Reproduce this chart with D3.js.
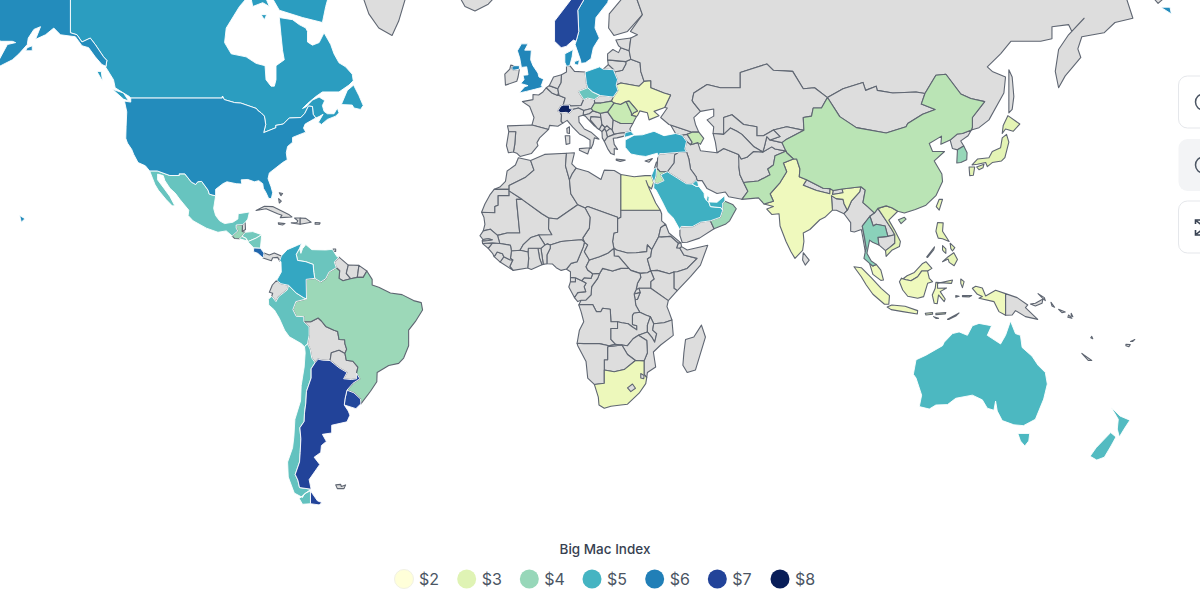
<!DOCTYPE html>
<html>
<head>
<meta charset="utf-8">
<script src="https://cdn.jsdelivr.net/npm/d3@7"></script>
<style>
  html, body { margin: 0; background: #fff; overflow: hidden; }
  svg { display: block; font-family: Inter, sans-serif; }
</style>
</head>
<body>
<svg id="chart" width="1200" height="594"></svg>
<script>
var countries = ["Switzerland","Norway","Argentina","Uruguay","Costa Rica","Sweden","USA","UK","Denmark","Canada","Poland","Colombia","Israel","Turkey","Saudi Arabia","Kuwait","UAE","Qatar","Australia","New Zealand","Chile","Czechia","Peru","Venezuela","Mexico","Nicaragua","Honduras","El Salvador","Thailand","Guatemala","South Korea","Brazil","Oman","Pakistan","China","Jordan","Azerbaijan","Hungary","Romania","Moldova","Vietnam","Japan","Philippines","Taiwan","Ukraine","Egypt","South Africa","India","Indonesia","Malaysia"];
var prices = [7.9,6.9,7.0,6.9,6.4,5.9,5.8,5.9,5.7,5.5,5.4,5.3,5.2,5.3,5.1,5.1,5.1,5.1,4.9,4.8,4.6,4.5,4.6,4.5,4.55,4.4,4.4,4.4,4.15,4.0,4.0,3.95,3.9,3.6,3.6,3.5,3.4,3.45,3.4,3.4,2.9,2.9,2.8,2.8,2.6,2.65,2.65,2.6,2.6,2.6];

var legendTitle = "Big Mac Index";
var legendSteps = [2,3,4,5,6,7,8];

// Simplified borders, lon,lat pairs, rings split by |
var outlines = {
  "Canada": "-141,72 -141,60.3 -139,60 -137.5,58.9 -135,59.5 -133.5,58.5 -131,56.5 -130,55.9 -130.3,54.7 -128,52.5 -127.5,51 -125,50 -123.2,49.3 -122.8,49 -95.2,49 -95.15,49.4 -94.6,48.7 -91.5,48.1 -89.6,48 -84.9,46.9 -84.5,46.5 -83.5,46 -82.5,45.3 -82.1,43.5 -82.7,41.7 -79,42.8 -79.1,43.3 -76.8,43.6 -75,44.9 -71.5,45 -70.3,45.9 -69.2,47.4 -68,47.3 -67.8,45.7 -67,44.9 -66,45.2 -64.8,45.7 -66.2,44 -65.3,43.5 -63.5,44.6 -61,45.3 -60,46 -60.5,47 -61.5,45.8 -63.5,45.8 -64.5,46.3 -65,47.5 -64.3,48.5 -66,49.2 -68,48.6 -70,47.2 -71,46.9 -69.5,47.9 -67,49.3 -65,50.2 -60,50.2 -57,51.5 -55.7,52.3 -56,53.5 -58,54.8 -60,55.5 -61.5,57 -62.5,58.5 -64.5,60.3 -66,58.8 -68,58.4 -69.5,58.9 -69.5,60.5 -70,61 -72,61.5 -74,62.2 -78,62.5 -77.5,60 -77,57.5 -76.5,56 -79,55 -79,52.5 -79.5,51.3 -80.5,51.3 -82,52.5 -82.3,55 -85,55.4 -88,56.5 -92.5,57 -94.5,58.8 -94,61 -90,64 -88,65 -85,66 -85,72 | -80,72 -80,65 -78,63.5 -71,62.5 -65,61.8 -64,64 -62,67 | -59.3,47.7 -57.5,50.5 -55.6,51.5 -54,49.5 -52.7,47.5 -53.5,46.7 -55.5,47 -56,47.6 | -128.3,50.7 -125,50 -123.4,48.4 -125,48.8 | -133,54 -131.7,54 -131.3,52.2 | -83.5,62.9 -81.8,62.9 -82.5,62.2 | -87,66 -86,64 -83,64.5 -81,64 -83,66",
  "USA": "-122.8,49 -95.2,49 -95.15,49.4 -94.6,48.7 -91.5,48.1 -89.6,48 -84.9,46.9 -84.5,46.5 -83.5,46 -82.5,45.3 -82.1,43.5 -82.7,41.7 -79,42.8 -79.1,43.3 -76.8,43.6 -75,44.9 -71.5,45 -70.3,45.9 -69.2,47.4 -68,47.3 -67.8,45.7 -67,44.9 -68.5,44.3 -70.2,43.6 -70.7,42.7 -70,41.8 -71.4,41.4 -74,40.6 -74,39.5 -75.5,38.5 -75.9,37 -75.6,35.3 -77,34.6 -79,33.3 -81,32 -81.4,30.5 -80.5,28.4 -80,26.8 -80.4,25.2 -81.2,25.2 -82,26.8 -82.8,28 -83,29.2 -84.2,30 -85.5,29.7 -87.5,30.3 -89.5,30.2 -89.3,29.1 -91,29.2 -93.8,29.7 -95,29.2 -97.2,27.7 -97.2,25.95 -99.1,26.4 -99.5,27.5 -101.4,29.8 -102.6,29.7 -103.2,29 -104.5,29.6 -106.5,31.75 -108.2,31.75 -108.2,31.33 -111,31.33 -114.8,32.5 -117.1,32.5 -118.4,33.8 -120.6,34.6 -121.9,36.6 -122.5,37.8 -123.8,39.3 -124.3,40.4 -124.2,43 -124,46.2 -124.7,48.4 -122.8,48.2 | -141,72 -141,60.3 -139,60 -137.5,58.9 -135,59.5 -133.5,58.5 -131,56.5 -130,55.9 -130.3,54.9 -131.5,55.2 -133.5,56.5 -135.5,58 -137.5,58.3 -139.5,59.7 -144,60 -146,61 -148.5,60 -151.5,59.3 -150,61.2 -152,60.8 -153.7,59.5 -154,58.5 -156.5,57 -158.5,56 -161,55.3 -163,54.7 -164.8,54.6 -162.5,56 -160,58.5 -157.5,58.8 -158.5,59 -162,59 -165,60.5 -165,63 -168,65.5 -160,72 | -154.5,57.5 -152.5,57.5 -152.5,58.3 -154,58 | -156.3,20.5 -154.7,19.6 -155.8,18.6 | 187.8,63.9 191,63 190.6,63.9",
  "Mexico": "-117.1,32.5 -114.8,32.5 -111,31.33 -108.2,31.33 -108.2,31.75 -106.5,31.75 -104.5,29.6 -103.2,29 -102.6,29.7 -101.4,29.8 -99.5,27.5 -99.1,26.4 -97.2,25.95 -97.8,22.5 -97.2,20.5 -96,19 -94.5,18.2 -92,18.6 -90.5,19.5 -90.4,21 -87,21.5 -87.5,19.5 -88.3,18.5 -89.1,17.9 -91,17.8 -91,16.9 -90.5,16.1 -92.2,14.6 -94,16.1 -96.5,15.7 -100,16.9 -104,19 -105.5,20.5 -105.3,22 -108,25 -109.4,26.7 -111,28 -112.5,30 -113,31.3 -114.7,31.7 -114.7,30.2 -112.8,28 -111,25.8 -109.5,23.2 -110.3,23.2 -112.2,25 -114.5,27.5 -115.5,29",
  "Belize": "-89.1,17.9 -88.3,18.5 -88.2,16.5 -89.2,15.9",
  "Guatemala": "-92.2,14.6 -90.5,16.1 -91,16.9 -91,17.8 -89.1,17.9 -89.2,15.9 -88.3,15.7 -89.3,14.5 -90,13.8 -91.5,13.9",
  "Honduras": "-88.3,15.7 -86,15.9 -83.3,15 -85,14 -87.4,13 -88,13.9 -89.3,14.5",
  "El Salvador": "-89.3,14.5 -88,13.9 -87.8,13.2 -90,13.8",
  "Nicaragua": "-83.3,15 -83.7,11 -85.7,11.1 -87.6,13 -87.4,13 -85,14",
  "Costa Rica": "-85.7,11.1 -83.7,11 -82.6,9.6 -82.9,8.1 -84.5,9.5 -85.8,10",
  "Panama": "-82.6,9.6 -81,9 -79.5,9.6 -77.4,8.7 -77.9,7.2 -78.5,8.3 -80,8.2 -80.4,7.3 -82.9,8.1",
  "Cuba": "-85,21.9 -82.5,23.1 -80,23 -75,20.7 -74.2,20.1 -77.7,19.9 -77.2,20.6 -78.5,21 -82,22.4",
  "Haiti": "-74.4,18.4 -71.7,18 -71.7,19.8 -73.4,19.8 -72.4,19 -72.7,18.5",
  "Dominican Rep.": "-71.7,19.8 -70,19.7 -68.4,18.6 -70,18.3 -71.7,18",
  "Jamaica": "-78.3,18.4 -76.3,18.2 -77,17.8 -78.2,18",
  "Puerto Rico": "-67.2,18.5 -65.7,18.4 -65.9,18 -67.2,18",
  "Bahamas": "-78,26.8 -77,26.6 -77.5,26 | -78.2,25.2 -77.4,24.5 -78,24",
  "Trinidad": "-61.8,10.8 -61,10.8 -61,10.1 -61.8,10.1",
  "Falklands": "-61,-51.5 -59.5,-51.4 -59.3,-51.8 -58,-51.5 -58.5,-52.2 -60.5,-52.2",
  "Colombia": "-77.4,8.7 -75.6,10.6 -72.5,11.9 -71.3,12.4 -71.9,11 -72.9,9.2 -72.5,7.4 -70,7 -67.8,6.2 -67.6,3.8 -67.3,2 -69.9,1.7 -69.8,-4.2 -70.7,-3.8 -72.9,-2.4 -75.2,-0.1 -77.5,0.4 -78.8,1.4 -77.4,3.9 -77.5,7 -77.9,7.2",
  "Venezuela": "-71.9,11 -71.5,9.5 -71,10.9 -70,12.1 -68.2,10.6 -64,10.5 -62,10.7 -60.6,8.5 -60,8.4 -61.4,6.9 -60.8,5.2 -63,3.9 -64,1.9 -65.5,0.9 -67.3,2 -67.6,3.8 -67.8,6.2 -70,7 -72.5,7.4 -72.9,9.2",
  "Guyana": "-60,8.4 -57.2,6 -57.8,3.5 -56.5,1.9 -58.8,1.3 -60,2 -59.8,4.3 -60.8,5.2 -61.4,6.9",
  "Suriname": "-57.2,6 -54,5.9 -54.3,3.5 -54.5,2.3 -56.5,1.9 -57.8,3.5",
  "French Guiana": "-54,5.9 -51.6,4.2 -52.7,2.3 -54.5,2.3 -54.3,3.5",
  "Ecuador": "-78.8,1.4 -77.5,0.4 -75.2,-0.1 -75.6,-1.5 -78.2,-3.5 -79,-5 -80.3,-3.4 -80,-2.5 -81,-2.2 -80.1,0",
  "Peru": "-75.2,-0.1 -72.9,-2.4 -70.7,-3.8 -69.8,-4.2 -73,-5 -73.9,-7.4 -72.9,-9.4 -70.6,-9.5 -70.6,-11 -69,-12.5 -69,-15 -69.5,-17.5 -70.4,-18.3 -71.4,-17.4 -75,-15.4 -76.4,-13.5 -78,-10 -79.5,-7.5 -81.2,-6 -81.3,-4.3 -80.3,-3.4 -79,-5 -78.2,-3.5 -75.6,-1.5",
  "Bolivia": "-70.6,-11 -68.5,-11 -66.3,-9.9 -65.3,-10.8 -64,-12.4 -61.5,-13.5 -60.4,-13.9 -60,-16.2 -58.3,-16.3 -58.2,-17.5 -57.7,-19 -58.2,-20.2 -60,-19.3 -62.3,-20 -62.7,-22.2 -65,-22.1 -66.3,-21.8 -67.2,-22.8 -68.2,-21.5 -68.7,-19 -69.5,-17.5 -69,-15 -69,-12.5",
  "Paraguay": "-58.2,-20.2 -57.8,-22.1 -55.8,-22.4 -54.3,-24 -54.7,-25.7 -54.7,-27.2 -56.3,-27.4 -58.6,-27.2 -57.6,-25.5 -60,-24.2 -62.7,-22.2 -62.3,-20 -60,-19.3",
  "Argentina": "-65,-22.1 -62.7,-22.2 -60,-24.2 -57.6,-25.5 -58.6,-27.2 -56.3,-27.4 -54.7,-27.2 -54.7,-25.7 -53.7,-27.2 -55.8,-28.4 -57.6,-30.2 -58.2,-32.5 -58.4,-34 -57.2,-35.5 -56.7,-36.5 -57.6,-38.1 -62.2,-38.9 -62.2,-40.7 -65,-41 -63.8,-42.6 -65.3,-43.5 -65.5,-45 -67.5,-46 -65.8,-47.5 -69,-50.5 -68.4,-52.3 -71.9,-52 -72.4,-50.6 -73.2,-49.5 -71.9,-47 -71.7,-45 -71.5,-42 -71.8,-39.5 -70.5,-38 -70.4,-36 -70,-33.5 -69.8,-30.5 -68.4,-27 -68.4,-24.5 -67.2,-22.8 -66.3,-21.8 | -68.6,-52.6 -68.6,-54.9 -66,-55.1 -65.1,-54.7 -66.5,-54.4",
  "Chile": "-70.4,-18.3 -69.5,-17.5 -68.7,-19 -68.2,-21.5 -67.2,-22.8 -68.4,-24.5 -68.4,-27 -69.8,-30.5 -70,-33.5 -70.4,-36 -70.5,-38 -71.8,-39.5 -71.5,-42 -71.7,-45 -71.9,-47 -73.2,-49.5 -72.4,-50.6 -71.9,-52 -68.4,-52.3 -70.5,-53.2 -71,-53.8 -73.5,-53 -75.3,-50 -75.5,-47 -74,-44 -73.6,-41.5 -73.3,-37.5 -71.6,-33 -71.4,-29 -70.5,-24 -70.2,-20 | -68.6,-52.6 -70,-53 -72,-54 -71,-55 -68.6,-54.9",
  "Brazil": "-60.8,5.2 -59.8,4.3 -60,2 -58.8,1.3 -56.5,1.9 -54.5,2.3 -52.7,2.3 -51.6,4.2 -50,1.7 -50,0 -48,-0.7 -44.5,-2.4 -41,-2.9 -37.5,-4.7 -35.2,-5.3 -34.8,-7.5 -37,-11 -39,-13.5 -39,-18 -40.5,-21.5 -42,-23 -45,-23.6 -48.5,-25.5 -48.6,-28 -50.5,-30.5 -53.4,-33.7 -53.5,-32.5 -55.5,-30.9 -57.6,-30.2 -55.8,-28.4 -53.7,-27.2 -54.7,-25.7 -54.3,-24 -55.8,-22.4 -57.8,-22.1 -58.2,-20.2 -57.7,-19 -58.2,-17.5 -58.3,-16.3 -60,-16.2 -60.4,-13.9 -61.5,-13.5 -64,-12.4 -65.3,-10.8 -66.3,-9.9 -68.5,-11 -70.6,-11 -70.6,-9.5 -72.9,-9.4 -73.9,-7.4 -73,-5 -69.8,-4.2 -69.9,1.7 -67.3,2 -65.5,0.9 -64,1.9 -63,3.9",
  "Uruguay": "-57.6,-30.2 -55.5,-30.9 -53.5,-32.5 -53.4,-33.7 -54.9,-34.9 -58.4,-34 -58.2,-32.5",
  "Greenland": "-52,72 -53,65.5 -51,63 -48,61 -44,59.9 -42,62 -40,65 -25,70",
  "Iceland": "-24,65.5 -22,64 -19,63.4 -15,64.3 -13.5,65 -15,66.4 -22,66.4",
  "Morocco": "-5.9,35.8 -2.2,35.1 -1.2,32.7 -3.7,30.9 -8.7,28.7 -8.7,27.7 -13.2,27.7 -11.5,28.3 -9.8,29.8 -9.3,32.5 -6.8,34",
  "W. Sahara": "-13.2,27.7 -8.7,27.7 -8.7,26 -12,26 -12,23.4 -13,23 -13,21.3 -17,21.4 -16,23.7 -14.5,26.2",
  "Mauritania": "-17,21.4 -13,21.3 -13,23 -12,23.4 -12,26 -8.7,26 -8.7,27.3 -4.8,25 -6.5,25 -5.5,15.5 -9.3,15.5 -12.2,14.8 -14.4,16.6 -16.5,16.1 -16,18 -16.3,20",
  "Mali": "-4.8,25 1.2,21 3.3,19.8 3.2,16.7 4.2,15 0.2,14.9 -2.1,14.2 -4.5,12 -5.4,10.4 -8,10.2 -8.3,11.9 -11.5,12.4 -12.2,14.8 -9.3,15.5 -5.5,15.5 -6.5,25",
  "Algeria": "-2.2,35.1 2,36.6 8.6,36.9 8.3,33.8 9.5,30.2 9.9,26.5 12,23.5 5.8,19.5 3.3,19.8 1.2,21 -4.8,25 -8.7,27.3 -8.7,28.7 -3.7,30.9 -1.2,32.7",
  "Tunisia": "8.6,36.9 11,37 10.2,34.3 11.5,33.2 10.3,31.7 9.5,30.2 8.3,33.8",
  "Libya": "11.5,33.2 15.2,32.3 19,30.3 20,32.7 23,32.6 25,31.6 25,20 24,19.5 24,20 15,23 14.2,22.6 12,23.5 9.9,26.5 9.5,30.2 10.3,31.7",
  "Egypt": "25,31.6 29,31 32.3,31.3 34.2,31.3 34.9,29.5 34.2,27.8 33.2,28.6 32.6,30 33.6,27.8 35.5,24 36.9,22 25,22",
  "Sudan": "25,22 36.9,22 37.3,21 37.3,19 38.5,18 37,17 36.4,14.4 34.3,10.6 33,12 32.8,10 29.6,9.7 27,9.6 23.7,10.5 22.9,11 22.5,13 22.9,15.5 24,15.7 24,19.5 25,20",
  "South Sudan": "23.7,10.5 27,9.6 29.6,9.7 32.8,10 33,12 34.3,10.6 34,8.5 33,7.8 34,4.3 33,3.7 30.8,3.5 28,4.4 27.4,5 24.3,8.6 23,8.7 22.9,11",
  "Eritrea": "38.5,18 39.5,15.5 43.1,12.6 42.3,12.5 40,14.5 37,14.3 36.4,14.4 37,17",
  "Djibouti": "43.1,12.6 43.3,11.5 42.8,11 41.8,11.1 42.3,12.5",
  "Ethiopia": "36.4,14.4 37,14.3 40,14.5 42.3,12.5 41.8,11.1 42.8,11 44,9 48,8 45,5 42,4 41,3.9 39.6,3.4 36,4.4 34,4.3 33,7.8 34,8.5 34.3,10.6",
  "Somalia": "42.8,11 43.3,11.5 45,10.5 51.2,11.9 49,6 46,2.5 42,-1.7 41,-1 41,3.9 42,4 45,5 48,8 44,9",
  "Kenya": "41,3.9 41,-1 42,-1.7 39.3,-4.7 34,-1 34,1 35,1.8 34,4.3 36,4.4 39.6,3.4",
  "Uganda": "33,3.7 34,4.3 35,1.8 34,1 34,-1 30.5,-1 29.6,-1.4 30,0.5 31,2.3 30.8,3.5",
  "Tanzania": "30.5,-1 34,-1 39.3,-4.7 38.9,-6.5 39.5,-8 40.4,-10.5 38,-11.3 34.9,-11.6 33.9,-9.5 32.5,-9 30.7,-8.2 29.5,-6.1 29.3,-4.4 30,-4.3 30.8,-2.3",
  "Rwanda": "29.6,-1.4 30.5,-1 30.8,-2.3 29,-2.7",
  "Burundi": "29,-2.7 30.8,-2.3 30,-4.3 29.3,-4.4",
  "DR Congo": "30.8,3.5 31,2.3 30,0.5 29.6,-1.4 29,-2.7 29.3,-4.4 29.5,-6.1 30.7,-8.2 28.9,-8.5 28.5,-9.2 28.5,-11.8 29.8,-12.2 29.8,-13.4 28.4,-12.5 27.2,-11.6 25.3,-11.3 24,-11 22,-11 21.8,-7.3 19.5,-7 19,-8 17.6,-8 16.5,-5.9 13,-5.9 12.3,-6 13,-4.6 14.5,-4.5 16,-3 16.2,-0.5 18,2 18.6,3.5 19.5,5 22.5,4.2 25,5 27.4,5 28,4.4",
  "Congo": "11,-3.8 12,-5 13,-4.6 14.5,-4.5 16,-3 16.2,-0.5 18,2 18.6,3.5 16.5,3.4 16,2 14,2.2 13.2,1.3 14.5,0.5 13.9,-0.5 14.4,-2 12,-2.3 11.5,-3",
  "Gabon": "9.8,1 11.3,1 11.3,2.2 13.2,1.3 14.5,0.5 13.9,-0.5 14.4,-2 12,-2.3 11.5,-3 11,-3.8 9.3,-0.6",
  "Eq. Guinea": "9.8,2.3 11.3,2.2 11.3,1 9.8,1",
  "Cameroon": "8.5,4.8 9.8,4 9.8,2.3 11.3,2.2 13.2,1.3 14,2.2 16,2 16.5,3.4 15,4.5 14.5,5.5 15.5,7.5 14,10 15,12 14,12.8 13.7,11.5 11.8,7 10,6.5 8.6,4.8",
  "C.A.R.": "14.5,5.5 15,4.5 16.5,3.4 18.6,3.5 19.5,5 22.5,4.2 25,5 27.4,5 24.3,8.6 23,8.7 22.9,11 21,9.5 18.5,8.5 15.5,7.5",
  "Chad": "15,23 24,20 24,15.7 22.9,15.5 22.5,13 22.9,11 21,9.5 18.5,8.5 15.5,7.5 14,10 15,12 14,12.8 13.5,14 15.5,16.9 15.7,20 14.2,22.6",
  "Niger": "12,23.5 14.2,22.6 15.7,20 15.5,16.9 13.5,14 14,12.8 13.3,13.5 10,13.3 7,13 3.7,12 2.8,12.3 2.1,12 0.2,14.9 4.2,15 3.2,16.7 3.3,19.8 5.8,19.5",
  "Nigeria": "3.7,12 7,13 10,13.3 13.3,13.5 14,12.8 13.7,11.5 11.8,7 10,6.5 8.6,4.8 7,4.4 5.5,5.2 4.4,6.3 2.7,6.4 2.7,9 3.7,11",
  "Benin": "2.8,12.3 3.7,12 3.7,11 2.7,9 2.7,6.4 1.6,6.2 0.9,11 2.1,12",
  "Togo": "0.9,11 0,11 0.5,8 1.2,6.1 1.6,6.2",
  "Ghana": "-2.9,11 0,11 0.5,8 1.2,6.1 -2,4.7 -3.1,5.1 -2.8,8 -3,9.9",
  "Burkina Faso": "-5.4,10.4 -4.5,12 -2.1,14.2 0.2,14.9 2.1,12 0.9,11 0,11 -2.9,11 -3,9.9",
  "Ivory Coast": "-2.8,8 -3.1,5.1 -7.5,4.4 -8.5,5.6 -7.6,7.5 -8.3,8 -8,10.2 -5.4,10.4 -3,9.9",
  "Liberia": "-7.5,4.4 -11.4,6.9 -10.3,8.5 -8.5,7.6 -7.6,7.5 -8.5,5.6",
  "Sierra Leone": "-13.2,8.5 -12.3,9.9 -10.7,9.4 -10.3,8.5 -11.4,6.9",
  "Guinea": "-13.2,8.5 -13.7,9.5 -15,11 -13.7,12.6 -11.5,12.4 -8.3,11.9 -8,10.2 -8.3,8 -7.6,7.5 -8.5,7.6 -10.3,8.5 -10.7,9.4 -12.3,9.9",
  "Guinea-Bissau": "-16.7,12.4 -13.7,12.6 -15,11",
  "Senegal": "-16.5,16.1 -14.4,16.6 -12.2,14.8 -11.5,12.4 -13.7,12.6 -16.7,12.4 -16.8,13.2 -15,13.3 -13.8,13.5 -15,13.8 -16.6,13.6 -17.5,14.7",
  "Gambia": "-16.8,13.2 -15,13.3 -13.8,13.5 -15,13.8 -16.6,13.6",
  "Angola": "12.3,-6 13,-5.9 16.5,-5.9 17.6,-8 19,-8 19.5,-7 21.8,-7.3 22,-11 24,-11 24,-13 22,-13 22,-16.2 23.4,-17.6 21.4,-18 18.5,-17.4 13.8,-17.4 11.8,-17.3 12.5,-13.5 13.8,-11 13,-8",
  "Zambia": "30.7,-8.2 32.5,-9 33.9,-9.5 33,-12 33,-14 30.3,-15 28.7,-16 27,-18 25.3,-17.8 23.4,-17.6 22,-16.2 22,-13 24,-13 24,-11 25.3,-11.3 27.2,-11.6 28.4,-12.5 29.8,-13.4 29.8,-12.2 28.5,-11.8 28.5,-9.2 28.9,-8.5",
  "Malawi": "33.9,-9.5 34.9,-11.6 34.6,-13.5 35.8,-14.5 35.2,-17 34.3,-15.5 33,-14 33,-12",
  "Mozambique": "34.9,-11.6 38,-11.3 40.4,-10.5 40.8,-15 37,-17.8 34.8,-19.8 35.5,-24 33,-25.5 32.8,-26.9 32,-26 32,-22.3 33,-20 32.8,-16.5 30.3,-15 33,-14 34.3,-15.5 35.2,-17 35.8,-14.5 34.6,-13.5",
  "Zimbabwe": "25.3,-17.8 27,-18 28.7,-16 30.3,-15 32.8,-16.5 33,-20 32,-22.3 29.4,-22.2 27,-20.5",
  "Botswana": "21,-18.3 25.3,-17.8 27,-20.5 29.4,-22.2 26,-24.7 23,-25.3 20,-24.8 20,-22 21,-22",
  "Namibia": "11.8,-17.3 13.8,-17.4 18.5,-17.4 21.4,-18 23.4,-17.6 25.3,-17.8 21,-18.3 21,-22 20,-22 20,-28.4 17,-28.7 15,-27 14.5,-22.5 12,-18",
  "South Africa": "17,-28.7 20,-28.4 20,-24.8 23,-25.3 26,-24.7 29.4,-22.2 32,-22.3 32,-26 32.8,-26.9 32.5,-28.5 30.5,-31 27,-33.8 25,-34 22,-34.3 20,-34.8 18.4,-34 18.2,-32",
  "Lesotho": "27,-29.6 28.5,-28.6 29.4,-29.7 28,-30.6",
  "Eswatini": "31,-25.8 32,-26.3 31.9,-27.2 31,-27",
  "Madagascar": "49.3,-12 50.5,-15.5 47.5,-24.8 45,-25.5 43.7,-23.5 44,-20 44.5,-16.2 47,-15.5",
  "Norway": "5,62 5,59 7,58 8.5,58.2 10.7,59.2 11.5,59 12.3,60.5 12,63.5 14,65 15,68 20,69 28,71 20,72 12,66",
  "Sweden": "11.5,59 11.2,58.5 12.8,56 13,55.4 14.3,55.5 16,56.2 16.7,58 18.5,59.5 17.2,61 17.5,62.5 21,64.5 22,65.8 24,66 24,68 20,69 15,68 14,65 12,63.5 12.3,60.5",
  "Finland": "24,66 25.3,65 21.5,63 21.3,61 22.9,59.9 27,60.5 31.5,62.9 29.8,65 29,69.5 28,71 20,69 24,68",
  "Denmark": "8.1,57 10.6,57.7 10.3,56.5 9.6,55 8.6,54.9 8.1,55.6 | 11,55.7 12.5,56 12.2,55.1 11.1,55.2",
  "UK": "-5,58.6 -3,58.6 -4,57.6 -2,57.6 -2.2,56 -1.5,55 0,53.7 0.3,53 1.7,52.6 1,51.4 1.4,51.1 -1,50.7 -3.5,50.3 -5.7,50 -4,51.2 -3,51.4 -5.2,51.8 -4.2,52.5 -4.5,53.3 -3,53.4 -3.4,54.8 -5,54.7 -5.5,56.3 -6.2,57.5 | -7.3,55 -5.6,55 -5.6,54.4 -7.3,54.2 -8,54.6",
  "Ireland": "-7.3,55 -8,54.6 -7.3,54.2 -5.6,54.4 -6,53 -6.4,52.2 -9.8,51.5 -10,53.5 -8.5,54.4 -8.2,55.1",
  "France": "2.5,51 4.2,50 6,49.5 6.4,49.5 8.2,49 7.6,47.6 6.9,47.4 6,46.4 6.9,46 7.1,45.5 7,44.2 7.5,43.8 6,43.1 3.5,43.3 3.2,42.4 -1.8,43.4 -1.2,45 -2.5,47.3 -4.7,48.3 -1.5,48.7 -1.5,49.7 0.2,49.6 1.5,50.2 | 8.7,42.6 9.5,43 9.5,41.5 8.8,41.6",
  "Switzerland": "6,46.4 6.9,47.4 7.6,47.6 9.5,47.6 9.5,46.9 10.4,46.7 9.3,45.9 8.5,46.1 6.9,46",
  "Belgium": "2.5,51 3.4,51.4 6,50.8 6.2,50 6,49.5 4.2,50",
  "Luxembourg": "6,49.5 6.2,50 6.4,49.5",
  "Netherlands": "3.4,51.4 4.7,53 7.1,53.4 7,52 6,50.8",
  "Germany": "7.1,53.4 8.6,53.9 8.6,54.9 9.6,55 11,54 14.2,53.9 14.6,51.8 15,51 12.2,50.3 13.8,48.7 13,47.5 10,47.4 9.5,47.6 7.6,47.6 8.2,49 6.4,49.5 6.2,50 6,50.8 7,52",
  "Poland": "14.2,53.9 18.6,54.8 19.7,54.4 22.8,54.3 23,53.9 24,52.5 23.6,51.5 24.1,50.5 22.7,49.2 18.8,49.5 16.5,50.2 15,51 14.6,51.8",
  "Czechia": "12.2,50.3 15,51 16.5,50.2 18.8,49.5 17,48.7 15,49 13.8,48.7",
  "Slovakia": "18.8,49.5 22.7,49.2 22.2,48.4 19,48 17.1,48 17,48.7",
  "Austria": "10,47.4 13,47.5 13.8,48.7 15,49 17,48.7 17.1,48 16.1,46.9 13.8,46.5 12.2,47 10.4,46.7 9.5,46.9 9.5,47.6",
  "Hungary": "17.1,48 19,48 22.2,48.4 22.9,48 21,46.2 18.8,45.9 16.6,46.4 16.1,46.9",
  "Slovenia": "13.8,46.5 16.1,46.9 16.6,46.4 15.5,45.8 13.6,45.5",
  "Croatia": "13.6,45.5 15.5,45.8 16.6,46.4 18.8,45.9 19,45 16,45.2 15.8,44.5 18,42.6 18.5,42.4 17,43.2 15,44.7 14.3,45.3",
  "Bosnia": "16,45.2 19,45 19.3,43.5 18.5,42.4 18,42.6 15.8,44.5",
  "Serbia": "18.8,45.9 21,46.2 22.7,44.5 22.4,42.3 21.7,42.6 20.8,43.2 20.2,42.8 19.3,43.5 19,45",
  "Montenegro": "18.5,42.4 19.3,43.5 20.2,42.8 19.3,41.9",
  "Kosovo": "20.2,42.8 20.8,43.2 21.7,42.6 20.6,41.9 20.1,42.5",
  "Albania": "19.3,41.9 20.1,42.5 20.6,41.9 21,40.7 20,39.7 19.4,40.5",
  "N. Macedonia": "20.6,41.9 21.7,42.6 22.4,42.3 23,41.3 21,40.7",
  "Bulgaria": "22.7,44.5 25,43.7 28.6,43.7 27.7,42.5 28,42 26.3,41.7 24,41.5 23,41.3 22.4,42.3",
  "Romania": "22.9,48 24.9,47.7 26.6,48.3 28.2,46 28.2,45.5 29.7,45.2 28.6,43.7 25,43.7 22.7,44.5 21,46.2",
  "Moldova": "26.6,48.3 27.5,48.4 30,46.4 28.9,46 28.2,45.5 28.2,46",
  "Ukraine": "24.1,50.5 23.6,51.5 25,51.9 30.5,51.3 32,52.2 34,52.3 34,51 38,50 40,49.6 38.2,47.1 35,46.3 36.5,45.4 33.5,44.5 33,46 30.7,46.4 30,45.4 29.7,45.2 28.2,45.5 28.9,46 30,46.4 27.5,48.4 26.6,48.3 24.9,47.7 22.9,48 22.2,48.4 22.7,49.2",
  "Belarus": "23.6,51.5 25,51.9 30.5,51.3 32,52.2 31,54 30.8,55.5 28,56.1 26.5,55.7 26.5,55.3 25.5,54.2 23,53.9 24,52.5",
  "Lithuania": "21,56 26.5,55.7 26.5,55.3 25.5,54.2 23,53.9 22.8,54.3 21.2,55.2",
  "Latvia": "21,56 21,57 22.6,57.7 24.3,57.2 25,58 27.5,57.5 28,56.1 26.5,55.7",
  "Estonia": "23.5,59.2 28,59.5 27.5,57.5 25,58 24.3,58.3",
  "Spain": "-9.2,43.2 -1.8,43.4 3.2,42.4 0.5,40.5 -0.3,39.4 0,38.7 -2,36.8 -5.4,36.1 -6.4,36.9 -7.4,37.2 -7,39 -6.7,41.9 -8.8,41.9",
  "Portugal": "-8.8,41.9 -6.7,41.9 -7,39 -7.4,37.2 -8.9,37 -9.5,38.7",
  "Italy": "7,44.2 7.1,45.5 6.9,46 8.5,46.1 9.3,45.9 10.4,46.7 12.2,47 13.8,46.5 13.6,45.5 12.3,45.2 12.4,44 14,42.5 16,41.8 18.4,40.2 17,40.5 16.6,39 16,38 15.7,38.2 15.7,40 14,40.8 12.5,41.4 10.5,42.9 8.8,44.4 7.5,43.8 | 12.5,38 15.6,38.2 15,36.7 12.5,37.6 | 8.2,41 9.6,41 9.6,39.2 8.5,39",
  "Greece": "20,39.7 21,40.7 23,41.3 24,41.5 26.3,41.7 26,40.9 23.8,40.5 22.7,40.4 23,39 24,37.8 23,38 23,36.5 22,36.8 21,38 | 23.6,35.5 26.3,35.2 24.8,34.9 23.6,35.2",
  "Cyprus": "32.3,35 34.5,35.6 33.5,34.7",
  "Turkey": "26.3,40 29,41.1 31.5,41.2 35,42 38,41 41.5,41.5 43.5,41.1 44.8,39.7 44.3,37.9 44.8,37.2 42.4,37.1 38,36.8 36.7,36.8 36.1,35.9 36,36.9 32.5,36.1 30.5,36.3 28,36.7 26.3,38.3 | 26,40.6 26.3,41.7 28,42 29,41.2 27,40.8",
  "Georgia": "40,43.4 46.5,41.8 45,41.3 43.5,41.1 41.5,41.5",
  "Armenia": "43.5,41.1 45,41.3 46.5,39.5 46,38.9 44.8,39.7",
  "Azerbaijan": "45,41.3 46.5,41.8 48.5,41.8 50,40.4 49,39 48.2,39.4 46,38.9 46.5,39.5",
  "Iran": "44.8,39.7 46,38.9 48.2,39.4 49,37.5 54,37 56,38 60.5,36.6 61.3,35.5 60.6,33.5 60.9,31.5 62,29.5 63.3,27.2 61.5,25 57.5,25.7 56.5,27 54,26.6 51,27.9 49.5,30 48,30 47.7,31 46,33 45.5,35.5 44.8,37.2 44.3,37.9",
  "Iraq": "42.4,37.1 44.8,37.2 45.5,35.5 46,33 47.7,31 48,30 47.7,30.1 46.5,29.1 44.7,29.2 39,32.3 41,34.5 41.2,36.5",
  "Syria": "36.1,35.9 36.7,36.8 38,36.8 42.4,37.1 41.2,36.5 41,34.5 39,32.3 36.8,32.3 35.8,33.3 36,34.7",
  "Lebanon": "36,34.7 35.8,33.3 35.1,33.1 35.7,34.7",
  "Israel": "35.1,33.1 35.8,33.3 35.6,31.2 35,29.5 34.2,31.3",
  "Jordan": "35.6,31.2 35.8,33.3 36.8,32.3 39,32.3 37,31.5 38,30 36,29.2 35,29.5",
  "Saudi Arabia": "35,29.5 36,29.2 38,30 37,31.5 39,32.3 44.7,29.2 46.5,29.1 47.7,28.5 48.5,28.5 50.1,26.7 50.2,25.6 50.8,24.7 51.5,24.3 52,23 55.2,22.7 55.7,22 55,20 52,19 49,18.6 46.5,17.3 43.2,17.4 42.8,16.4 40.8,19.8 39,21.5 37.5,24.3 35.6,27.5 34.9,28",
  "Kuwait": "46.5,29.1 47.7,30.1 48.2,29.5 48.5,28.5 47.7,28.5",
  "Qatar": "50.8,24.7 51.1,26.1 51.6,25.5 51.5,24.3",
  "UAE": "51.5,24.3 54,24.2 56.3,26 56.4,24.5 55.7,24 55.7,22 55.2,22.7 52,23",
  "Oman": "55,20 55.7,22 55.7,24 56.4,24.5 58.7,23.6 59.8,22.4 57.8,19 56.5,18 53.1,16.7 52,19",
  "Yemen": "43.2,17.4 46.5,17.3 49,18.6 52,19 53.1,16.7 48.7,14 45,12.8 43.5,12.7 42.8,14.8 42.8,16.4",
  "Russia": "28,71 29,69.5 29.8,65 31.5,62.9 27.9,60.5 30,60 28,59.5 27.5,57.5 28,56.1 30.8,55.5 31,54 32,52.2 34,52.3 34,51 38,50 40,49.6 38.2,47.1 39,47 37,45 39.5,43.5 40,43.4 46.5,41.8 48.5,41.8 47.5,43.5 47,45 49,46.3 47,48 46.5,48.5 47,50 51,51.6 55,51 61,51 61,53.8 69,55.3 71,54.2 76.8,54 80,50.8 83.4,51 87.3,49.1 92,50.8 98,52 98.8,50.5 102,51.3 102.3,50.5 107,50 114,50.2 116.7,49.9 120,53.3 123,53.5 127.5,49.8 130.5,48.9 134.7,48.3 131,45 131,42.9 130.7,42.3 133,42.8 136,44.5 140.5,50 141,53 137,54 135.5,54.8 139.5,57 142.6,59 151.6,59 155,59.4 155,61.2 160,61.5 161,60.5 164.7,62.4 160,60 157,57.7 156,54 157,51 159,53.2 161.3,54.8 163.7,56.4 162.8,57.8 164,59.7 170.7,60.3 174,61.8 179.4,62.4 177.5,65 180,66 186,64.9 187,64.4 188.3,64.9 191,65.5 191,68 178,75 30,75 | 19.7,54.4 22.8,54.3 21.2,55.2 | 142,54.3 143,53 143.5,49.3 143,46.7 142,46 142,48 142,51",
  "Kazakhstan": "47,50 51,51.6 55,51 61,51 61,53.8 69,55.3 71,54.2 76.8,54 80,50.8 83.4,51 87.3,49.1 85.5,47 83,47 82.5,45.3 80,45 80.2,42.2 75,43 71,42.3 68,41 66,41 66,43 62,43.5 58.5,45.6 56,45 56,41.3 52.8,41.5 53,43 51,44.5 53,45.3 53,46.8 49,46.3 47,48 46.5,48.5",
  "Mongolia": "87.3,49.1 92,50.8 98,52 98.8,50.5 102,51.3 102.3,50.5 107,50 114,50.2 116.7,49.9 115.6,47.8 119.8,46.7 116,45.7 111.5,43.7 111,43 105,41.6 96,42.8 91,45.2",
  "China": "73.6,39.4 75,40.2 80.2,42.2 80,45 82.5,45.3 83,47 85.5,47 87.3,49.1 91,45.2 96,42.8 105,41.6 111,43 111.5,43.7 116,45.7 119.8,46.7 115.6,47.8 116.7,49.9 120,53.3 123,53.5 127.5,49.8 130.5,48.9 134.7,48.3 131,45 131,42.9 130.7,42.3 128,41.5 126.5,41.4 124.3,40 121.5,39 121.7,40.9 118,39.2 119,37.3 122.6,37.3 119.5,35 121.8,31.7 122,29.8 120,26 117,23.4 113.8,22.2 110.5,21.2 108.5,21.7 106.7,22.7 105,23.2 102.5,22.5 101.5,21.2 99.5,22.9 98,24.1 98.7,27.5 97.4,28.4 91.7,27.8 89,27.4 88.1,27.9 86,28 81,30.2 78.8,31 79,33 78,35.5 77,35.5 75,37 | 108.7,19.3 110.5,20 111,19.5 109.5,18.2",
  "Taiwan": "121,25 122,25 121,22 120.1,23",
  "India": "77,35.5 78,35.5 79,33 78.8,31 81,30.2 80,28.8 84,27.4 88,26.5 88.1,27.9 89,27.4 88.8,26.3 92,26.8 91.7,27.8 97.4,28.4 97,27 94.5,24.5 93.3,22 92.3,23.8 92,25 89.9,25.2 88.5,26 88.8,22 86.5,20 85,19.3 82,16.5 80,15.5 80.2,13 79.8,10.4 77.5,8 76.3,10 74.8,13 73,17.5 72.7,21 70.5,20.8 69,22.3 71,23 68.2,23.7 71,24.5 70,26.5 73,29.5 75,32.3 74,34.5",
  "Pakistan": "74.9,37.4 75,37 77,35.5 74,34.5 75,32.3 73,29.5 70,26.5 71,24.5 68.2,23.7 66.5,25.4 61.5,25 63.3,27.2 62,29.5 66.4,29.9 70,31.5 69.3,33 71,34 71.5,36.3",
  "Afghanistan": "60.5,36.6 61.3,35.5 63,35.9 65,37.3 67.8,37.2 70.5,38.4 71.5,37.9 74.9,37.4 71.5,36.3 71,34 69.3,33 70,31.5 66.4,29.9 62,29.5 60.9,31.5 60.6,33.5",
  "Tajikistan": "67.8,37.2 70.5,38.4 71.5,37.9 74.9,37.4 75,37 73.6,39.4 70,40 69,40.8 68.3,38.5",
  "Kyrgyzstan": "70,40 73.6,39.4 75,40.2 80.2,42.2 75,43 71,42.3 73,40.8",
  "Uzbekistan": "56,45 58.5,45.6 62,43.5 66,43 66,41 68,41 71,42.3 73,40.8 70,40 69,40.8 68.3,38.5 67.8,37.2 65,38.5 61.5,41.3 60,42 58,42.7 56,41.3",
  "Turkmenistan": "52.8,41.5 56,41.3 58,42.7 60,42 61.5,41.3 65,38.5 67.8,37.2 65,37.3 63,35.9 61.3,35.5 60.5,36.6 56,38 54,37 53.5,39.5",
  "Nepal": "80,28.8 81,30.2 86,28 88.1,27.9 88,26.5 84,27.4",
  "Bhutan": "89,27.4 91.7,27.8 92,26.8 88.8,26.3",
  "Bangladesh": "88.5,26 89.9,25.2 92,25 92.3,23.8 93.3,22 92.3,21 90,22 88.8,22",
  "Sri Lanka": "80,9.7 81.8,7.5 80.6,6 79.8,7.5",
  "Myanmar": "97.4,28.4 98.7,27.5 98,24.1 99.5,22.9 101.5,21.2 100.1,20.3 97.8,17.5 98.5,14 99,11 98.7,10 98,14 97.5,16.5 95.4,15.8 94.3,16 94.3,18.5 92.3,21 93.3,22 94.5,24.5 97,27",
  "Thailand": "100.1,20.3 101.1,17.5 102,18 104.7,17.5 105.5,14.5 102.5,14.2 102.8,12 100.9,12.8 100,13.4 99.2,9.5 100.5,7.2 102,6.2 101,5.7 100,6.5 98.3,8 98.7,10 99,11 98.5,14 97.8,17.5",
  "Laos": "101.5,21.2 102.5,22.5 105,19 106.7,16.5 107.6,15 105.5,14.5 104.7,17.5 102,18 101.1,17.5 100.1,20.3",
  "Vietnam": "102.5,22.5 105,23.2 106.7,22.7 108.5,21.7 105.8,19.2 107.5,16.4 109.3,13 109,11.5 106.7,10.4 105,8.6 104.8,10.3 106,11.2 107.6,12.5 107.6,15 106.7,16.5 105,19",
  "Cambodia": "102.5,14.2 105.5,14.5 107.6,15 107.6,12.5 106,11.2 104.8,10.3 102.8,12",
  "Malaysia": "100,6.5 101,5.7 102,6.2 103.4,4.5 104.2,1.5 103.4,1.4 101,3.2 | 109.6,2 111,1.6 112.5,1.3 114.5,2.5 115.7,4.2 117.5,4.2 118.8,5 117,7 116,6.5 113.5,3.8 111.3,2.8 110,1.8",
  "Indonesia": "109,1 109.6,2 111,1.6 112.5,1.3 114.5,2.5 115.7,4.2 117.5,4.2 118,2 119,1 117.5,0.5 116.3,-3.5 114.5,-4 111.5,-3.4 110,-1.5 | 95.3,5.5 97.5,5.2 100.5,2.2 103.5,-1 106,-3.2 105.8,-5.8 104.5,-5.8 101,-2.8 99,0 97.5,2.5 | 105.3,-6.6 106.7,-6 110.7,-6.4 114.5,-7.7 114.4,-8.7 110,-8 106.5,-7.4 | 119.5,-5.5 120.4,-5.6 120.8,-3 122.5,-5 122.8,-4.2 121.3,-2 123.2,-0.9 120.5,-1 120.5,0.5 125,1.5 124.7,0.5 120,0.8 119.8,-1 118.9,-3 | 127.5,1.8 128.5,1 128,-0.8 127.5,0.5 | 128,-3.2 130.8,-3.2 130,-3.6 128,-3.5 | 126,-3.2 127,-3.4 126,-3.7 | 120,-8.5 123,-8.3 122.8,-8.7 120,-8.9 | 116.8,-8.5 119,-8.3 119,-8.8 117,-9 | 123.5,-10.3 127,-8.4 126,-9.3 124,-10.3 | 119.3,-9.5 120.8,-10 120,-10 | 141,-2.6 138,-1.6 135,-3.3 134,-0.9 132,-0.4 131,-1 132.5,-2.8 134,-3.5 133,-4 137.5,-5 138.5,-7 139,-8 141,-9.1",
  "Papua New Guinea": "141,-2.6 144.5,-3.8 147.7,-6 147,-6.8 150.7,-10.3 147,-9.5 144,-7.7 143,-9 141,-9.1 | 148.5,-5.7 150,-5.5 152.3,-4.2 152,-5.5 150,-6.3 | 150.8,-2.6 152.7,-3.8 153,-4.7 152,-3.8 | 154.7,-5.2 155.8,-6.7 155,-6.3",
  "Solomon Is.": "157,-7.3 159,-8.1 158,-8.3 | 160,-9 161,-10 159.8,-9.7 | 160.8,-8.5 161.3,-9.5 160.8,-9.3",
  "Vanuatu": "167,-15.3 167.3,-16 166.7,-15.7",
  "New Caledonia": "164,-20.2 167,-22.2 166,-22.2",
  "Fiji": "177.3,-17.6 178.6,-17.7 178.2,-18.3 177.3,-18 | 178.7,-16.8 180,-16.2 179.3,-16.8",
  "Philippines": "120.5,18.5 122.2,18.4 122,16 124,13 122,13.8 120.7,14 120,16 | 122,7 123.7,8.5 125.4,9.7 126.5,7.7 125.5,5.8 124,6.8 123.7,7.8 | 122,11.8 123,10.8 123,9.5 122.4,10 122,10.5 | 124.3,12.5 125.7,11.2 125,10.2 124.5,10.9 | 117.2,8.4 119.6,11.4 119.3,10.5 117.5,8.3",
  "Japan": "130.9,34 132.6,35.5 136,35.8 137,37.3 139.5,38.2 140,40.5 141.3,41.3 142,39.5 140.8,35.8 139.8,35 137,34.6 135.5,33.6 135,34.6 132.5,34.2 | 140,41.5 140.3,43.3 141.7,45.4 145.3,43.6 143.3,42 141,42.5 | 130,33.5 131.7,33.5 131.3,31.4 130.2,31.3 | 132.3,33.5 134.5,34.2 134.2,33.3 133,32.8",
  "South Korea": "126.5,37.7 128.4,38.6 129.4,37 129.3,35.3 127.5,34.6 126.3,34.5",
  "North Korea": "124.3,40 126.5,41.4 128,41.5 130.7,42.3 129.7,41 127.5,39.8 128.4,38.6 126.5,37.7 125,38",
  "Australia": "113.2,-26 114,-22 117,-20.7 122,-18 122.5,-17 125,-14.5 127,-14 129.5,-15 131,-12.2 133,-11.5 136.8,-12.2 135.5,-15 139.5,-17.5 141,-15 142.5,-10.8 144,-14.5 145.5,-15 146,-18.5 149,-21 150.8,-23.5 153,-25.5 153.6,-28.6 152.5,-32.5 150,-37.5 146.4,-39 143.5,-38.8 140,-37.8 138.5,-35.5 138,-33 137.5,-35.3 135.5,-34.8 134,-32.7 131,-31.5 126,-32.3 123.5,-33.9 120,-34 118,-35 115,-34.4 115.7,-31.5 114,-27 | 144.7,-40.8 148.3,-40.8 148,-42.5 146.8,-43.6 145.5,-42.5",
  "New Zealand": "172.8,-34.5 175.5,-36.7 178.5,-37.7 177,-39.5 175.3,-41.6 174.7,-39.8 175,-37.5 | 172.7,-40.6 174.3,-41.6 172.8,-43.6 170.8,-46 168.5,-46.6 166.5,-45.8 168.3,-44"
};

var svg = d3.select("#chart");

var priceByCountry = new Map(countries.map(function(name, i) { return [name, prices[i]]; }));

// YlGnBu runs from $2 to $8
var color = d3.scaleSequential(d3.interpolateYlGnBu).domain([2, 8]);

// Mercator, centred off Greenwich so Alaska and Chukotka stay unwrapped
var mercator = d3.geoMercator().scale(190).rotate([-11.5, 0]).translate([576.1, 285]);
var path = d3.geoPath(d3.geoTransform({
  point: function(lon, lat) {
    var p = mercator([lon, lat]);
    this.stream.point(p[0], p[1]);
  }
}));

function toFeature(name) {
  var rings = outlines[name].split(" | ").map(function(ring) {
    var pts = ring.trim().split(" ").map(function(pair) { return pair.split(",").map(Number); });
    pts.push(pts[0]);
    return [pts];
  });
  return {
    type: "Feature",
    properties: { name: name, price: priceByCountry.get(name) },
    geometry: { type: "MultiPolygon", coordinates: rings }
  };
}

// Grey and cheap countries first, so the pale borders of dear ones end up on top
var features = Object.keys(outlines).map(toFeature).sort(function(a, b) {
  return d3.ascending(a.properties.price || 0, b.properties.price || 0);
});

svg.append("g").selectAll("path")
  .data(features)
  .enter().append("path")
  .attr("d", path)
  .attr("fill", function(d) { return d.properties.price ? color(d.properties.price) : "#dddddd"; })
  .attr("stroke", function(d) { return d.properties.price >= 4.2 ? "#ffffff" : "#5f6672"; })
  .attr("stroke-width", function(d) { return d.properties.price >= 4.2 ? 0.9 : 1.1; })
  .attr("stroke-linejoin", "round");

// Lesotho and Eswatini sit inside South Africa and have to come after it
svg.select("g").selectAll("path")
  .filter(function(d) { return d.properties.name === "Lesotho" || d.properties.name === "Eswatini"; })
  .raise();

// Legend
svg.append("text")
  .attr("x", 605).attr("y", 554)
  .attr("text-anchor", "middle")
  .attr("font-size", 13.5).attr("font-weight", 500)
  .attr("fill", "#374151")
  .text(legendTitle);

var legendX = d3.scaleLinear().domain([2, 8]).range([404, 780]);

var item = svg.append("g").selectAll("g")
  .data(legendSteps)
  .enter().append("g")
  .attr("transform", function(d) { return "translate(" + legendX(d) + ",579)"; });

item.append("circle")
  .attr("r", 9.5)
  .attr("fill", function(d) { return color(d); })
  .attr("stroke", function(d) { return d === 2 ? "#f1f1e4" : "none"; });

item.append("text")
  .attr("x", 15).attr("dy", "0.35em")
  .attr("font-size", 16)
  .attr("fill", "#4b5563")
  .text(function(d) { return "$" + d; });

// Toolbar buttons cut off by the right edge
var buttons = [
  { y: 76, fill: "#ffffff", icon: "circle" },
  { y: 139, fill: "#f3f4f6", icon: "circle" },
  { y: 201, fill: "#ffffff", icon: "expand" }
];

var button = svg.append("g").selectAll("g")
  .data(buttons)
  .enter().append("g")
  .attr("transform", function(d) { return "translate(1178.5," + d.y + ")"; });

button.append("rect")
  .attr("width", 60).attr("height", 52).attr("rx", 9)
  .attr("fill", function(d) { return d.fill; })
  .attr("stroke", function(d) { return d.fill === "#ffffff" ? "#e5e7eb" : "none"; });

button.filter(function(d) { return d.icon === "circle"; })
  .append("circle")
  .attr("cx", 25).attr("cy", 26).attr("r", 8)
  .attr("fill", "none").attr("stroke", "#4b5563").attr("stroke-width", 1.5);

button.filter(function(d) { return d.icon === "expand"; })
  .append("path")
  .attr("d", "M17,23V19H23 M17,29V34H23 M18,20L23,24 M18,33L23,29")
  .attr("fill", "none").attr("stroke", "#374151").attr("stroke-width", 1.6);
</script>
</body>
</html>
